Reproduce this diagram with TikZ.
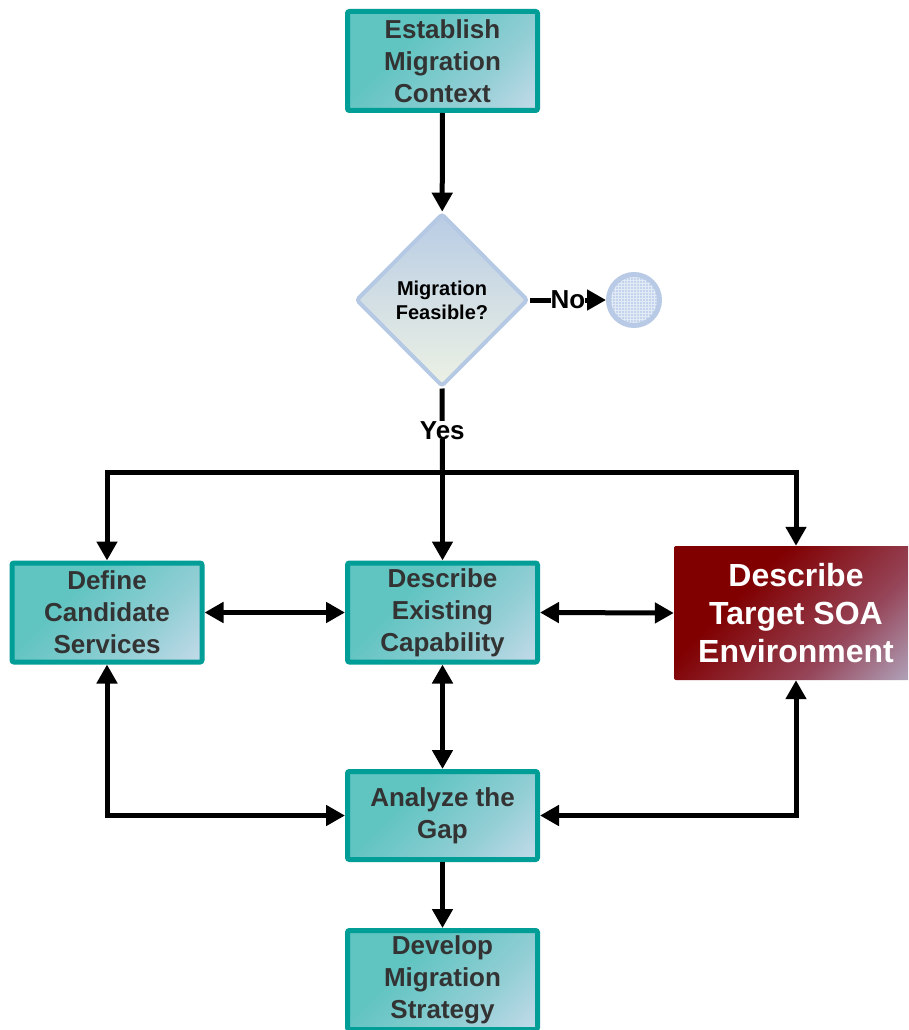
\documentclass[tikz,border=0pt]{standalone}
\usepackage{fontspec}
\setmainfont{Liberation Sans}
\usetikzlibrary{arrows.meta,shapes.geometric,patterns}
\definecolor{tealb}{RGB}{0,158,150}
\definecolor{tealfill}{RGB}{96,196,193}
\definecolor{tealmid}{RGB}{145,206,212}
\definecolor{teallight}{RGB}{202,220,236}
\definecolor{txt}{RGB}{51,51,51}
\definecolor{diab}{RGB}{182,201,228}
\definecolor{diatop}{RGB}{184,204,228}
\definecolor{diabot}{RGB}{236,241,228}
\definecolor{circb}{RGB}{184,202,230}
\definecolor{circfill}{RGB}{196,212,236}
\definecolor{circgrid}{RGB}{226,234,246}
\definecolor{reddark}{RGB}{128,0,0}
\definecolor{redmid}{RGB}{150,70,90}
\definecolor{redlight}{RGB}{184,192,216}
\pgfdeclareverticalshading{tealgrad}{100bp}{color(0bp)=(teallight); color(12bp)=(teallight); color(36bp)=(tealmid); color(64bp)=(tealfill); color(100bp)=(tealfill)}
\pgfdeclareverticalshading{redgrad}{100bp}{color(0bp)=(redlight); color(10bp)=(redlight); color(36bp)=(redmid); color(64bp)=(reddark); color(100bp)=(reddark)}
\newcommand\bxfont{\fontsize{26}{32}\selectfont\bfseries}
\newcommand\rdfont{\fontsize{32}{38}\selectfont\bfseries}
\newcommand\dmfont{\fontsize{20}{24}\selectfont\bfseries}
\newcommand\lbfont{\fontsize{26}{30}\selectfont\bfseries}
\begin{document}
\begin{tikzpicture}[x=1pt,y=-1pt,
  box/.style={draw=tealb, line width=5pt, rounded corners=2pt, shading=tealgrad, shading angle=45, shade,
    minimum width=190pt, minimum height=99pt, inner sep=0pt, align=center, font=\bxfont, text=txt},
  redbox/.style={rounded corners=2pt, shading=redgrad, shading angle=45, shade,
    minimum width=244pt, minimum height=134pt, inner sep=0pt, align=center, font=\rdfont, text=white},
  decision/.style={diamond, aspect=1, draw=diab, line width=4pt, rounded corners=3pt,
    top color=diatop, bottom color=diabot, minimum width=172pt, minimum height=173pt,
    inner sep=0pt, align=center, font=\dmfont, text=black},
  endpt/.style={circle, draw=circb, line width=5pt, preaction={fill=circfill}, pattern=grid, pattern color=circgrid,
    minimum size=51pt, inner sep=0pt},
  arr/.style={line width=5pt, -{Triangle[length=19pt,width=20pt]}},
  darr/.style={line width=5pt, {Triangle[length=19pt,width=20pt]}-{Triangle[length=19pt,width=20pt]}},
  lbl/.style={fill=white, inner sep=0pt, font=\lbfont, text=black}]
\clip (0,0) rectangle (908,1030);
\fill[white] (0,0) rectangle (908,1030);
\node[box] (est) at (442.5,61) {Establish\\Migration\\Context};
\node[decision] (dia) at (442,300) {Migration\\Feasible?};
\node[endpt] (cir) at (634,300) {};
\node[box] (dcs) at (107,612.5) {Define\\Candidate\\Services};
\node[box] (dec) at (442.5,612.5) {Describe\\Existing\\Capability};
\node[redbox] (red) at (796,613) {Describe\\Target SOA\\Environment};
\node[box, minimum height=88pt] (gap) at (442.5,815.5) {Analyze the\\Gap};
\node[box] (dev) at (442.5,980) {Develop\\Migration\\Strategy};
\coordinate (j) at (442.5,472);
\draw[arr] (est) -- (dia);
\draw[arr] (dia.east) -- node[lbl] {No} (cir.west);
\draw[line width=5pt] (dia.south) -- node[lbl] {Yes} (j);
\draw[arr] (j) -- (dec.north);
\draw[arr] (j) -| (dcs.north);
\draw[arr] (j) -| (red.north);
\draw[darr] (dcs.east) -- (dec.west);
\draw[darr] (dec.east) -- (red.west);
\draw[darr] (dec.south) -- (gap.north);
\draw[darr] (dcs.south) |- (gap.west);
\draw[darr] (red.south) |- (gap.east);
\draw[arr] (gap.south) -- (dev.north);
\end{tikzpicture}
\end{document}
